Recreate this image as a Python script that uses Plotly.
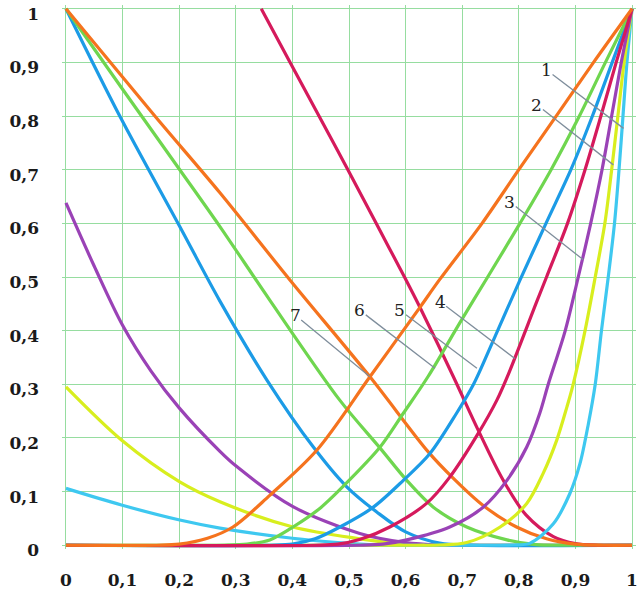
import plotly.graph_objects as go

# values
# falling curves (start at x = 0)
orange_dn_x = [0, 0.157, 0.272, 0.396, 0.537, 0.64, 0.684, 0.737, 0.796, 0.849, 0.9, 0.95, 1]
orange_dn_y = [1, 0.80, 0.657, 0.494, 0.314, 0.174, 0.125, 0.074, 0.034, 0.012, 0.002, 0, 0]
green_dn_x = [0, 0.1, 0.201, 0.272, 0.36, 0.484, 0.555, 0.602, 0.649, 0.708, 0.779, 0.83, 0.88, 1]
green_dn_y = [1, 0.85, 0.70, 0.594, 0.457, 0.27, 0.181, 0.121, 0.071, 0.034, 0.01, 0.001, 0, 0]
blue_dn_x = [0, 0.095, 0.201, 0.272, 0.355, 0.437, 0.496, 0.549, 0.6, 0.66, 0.72, 1]
blue_dn_y = [1, 0.80, 0.594, 0.455, 0.308, 0.183, 0.109, 0.062, 0.025, 0.004, 0, 0]
purple_dn_x = [0, 0.05, 0.1, 0.15, 0.2, 0.272, 0.30, 0.401, 0.519, 0.6, 0.66, 0.72, 1]
purple_dn_y = [0.638, 0.52, 0.41, 0.325, 0.256, 0.175, 0.148, 0.072, 0.022, 0.005, 0.0005, 0, 0]
yellow_dn_x = [0, 0.098, 0.201, 0.272, 0.401, 0.519, 0.58, 0.64, 0.7, 1]
yellow_dn_y = [0.295, 0.196, 0.118, 0.081, 0.034, 0.012, 0.004, 0.0005, 0, 0]
cyan_dn_x = [0, 0.098, 0.201, 0.272, 0.40, 0.48, 0.55, 0.6, 1]
cyan_dn_y = [0.106, 0.075, 0.047, 0.032, 0.013, 0.005, 0.0005, 0, 0]
crimson_dn_x = [0.345, 0.396, 0.447, 0.498, 0.548, 0.598, 0.627, 0.684, 0.728, 0.772, 0.813, 0.861, 0.9, 0.94, 1]
crimson_dn_y = [1, 0.90, 0.80, 0.70, 0.60, 0.50, 0.44, 0.315, 0.215, 0.122, 0.056, 0.016, 0.003, 0, 0]

# rising curves (all end at x = 1, y = 1)
orange_up_x = [0, 0.16, 0.2, 0.25, 0.295, 0.36, 0.443, 0.537, 0.625, 0.66, 0.735, 0.80, 0.866, 0.932, 1]
orange_up_y = [0, 0, 0.002, 0.013, 0.034, 0.093, 0.177, 0.314, 0.443, 0.495, 0.60, 0.70, 0.80, 0.90, 1]
green_up_x = [0, 0.28, 0.32, 0.36, 0.401, 0.45, 0.49, 0.555, 0.596, 0.64, 0.696, 0.745, 0.802, 0.857, 0.907, 0.953, 1]
green_up_y = [0, 0, 0.002, 0.01, 0.034, 0.07, 0.11, 0.183, 0.246, 0.315, 0.415, 0.50, 0.60, 0.70, 0.80, 0.90, 1]
blue_up_x = [0, 0.36, 0.40, 0.44, 0.484, 0.543, 0.596, 0.643, 0.69, 0.72, 0.755, 0.802, 0.848, 0.892, 0.930, 0.965, 1]
blue_up_y = [0, 0, 0.002, 0.012, 0.034, 0.071, 0.121, 0.171, 0.246, 0.30, 0.382, 0.494, 0.60, 0.70, 0.80, 0.90, 1]
crimson_up_x = [0, 0.44, 0.48, 0.52, 0.572, 0.637, 0.678, 0.728, 0.761, 0.782, 0.832, 0.849, 0.886, 0.917, 0.945, 0.972, 1]
crimson_up_y = [0, 0, 0.002, 0.011, 0.034, 0.078, 0.127, 0.208, 0.27, 0.32, 0.455, 0.50, 0.60, 0.70, 0.80, 0.90, 1]
purple_up_x = [0, 0.52, 0.56, 0.602, 0.678, 0.737, 0.779, 0.814, 0.837, 0.852, 0.882, 0.905, 0.927, 0.947, 0.964, 0.981, 1]
purple_up_y = [0, 0, 0.002, 0.01, 0.034, 0.071, 0.121, 0.183, 0.246, 0.30, 0.40, 0.50, 0.60, 0.70, 0.80, 0.90, 1]
yellow_up_x = [0, 0.62, 0.66, 0.708, 0.767, 0.814, 0.843, 0.867, 0.885, 0.896, 0.917, 0.935, 0.952, 0.964, 0.975, 0.986, 1]
yellow_up_y = [0, 0, 0.0005, 0.005, 0.034, 0.078, 0.134, 0.196, 0.258, 0.30, 0.40, 0.50, 0.60, 0.70, 0.80, 0.90, 1]
cyan_up_x = [0, 0.75, 0.79, 0.82, 0.861, 0.89, 0.908, 0.923, 0.935, 0.946, 0.958, 0.969, 0.977, 0.984, 0.991, 1]
cyan_up_y = [0, 0, 0.0005, 0.004, 0.04, 0.096, 0.152, 0.227, 0.30, 0.40, 0.50, 0.60, 0.70, 0.80, 0.90, 1]

tick_vals = [0, 0.1, 0.2, 0.3, 0.4, 0.5, 0.6, 0.7, 0.8, 0.9, 1]
tick_text = ["0", "0,1", "0,2", "0,3", "0,4", "0,5", "0,6", "0,7", "0,8", "0,9", "1"]
curve_labels = ["1", "2", "3", "4", "5", "6", "7"]

ORANGE = "#F5731E"
GREEN = "#6FD64F"
BLUE = "#1C9BE6"
PURPLE = "#9A42B6"
YELLOW = "#D8EE1E"
CYAN = "#3EC8F0"
CRIMSON = "#D51A5C"

curves = [
    (cyan_dn_x, cyan_dn_y, CYAN),
    (yellow_dn_x, yellow_dn_y, YELLOW),
    (purple_dn_x, purple_dn_y, PURPLE),
    (blue_dn_x, blue_dn_y, BLUE),
    (green_dn_x, green_dn_y, GREEN),
    (crimson_dn_x, crimson_dn_y, CRIMSON),
    (orange_dn_x, orange_dn_y, ORANGE),
    (cyan_up_x, cyan_up_y, CYAN),
    (yellow_up_x, yellow_up_y, YELLOW),
    (purple_up_x, purple_up_y, PURPLE),
    (blue_up_x, blue_up_y, BLUE),
    (green_up_x, green_up_y, GREEN),
    (crimson_up_x, crimson_up_y, CRIMSON),
    (orange_up_x, orange_up_y, ORANGE),
]

fig = go.Figure()
for xs, ys, col in curves:
    fig.add_trace(go.Scatter(
        x=xs, y=ys, mode="lines",
        line=dict(color=col, width=3.2, shape="spline", smoothing=0.9),
        showlegend=False, hoverinfo="skip",
    ))

# numbered leader lines: (text x, text y, tip x, tip y)
leaders = [
    (0.849, 0.886, 0.985, 0.777),
    (0.832, 0.821, 0.967, 0.709),
    (0.784, 0.640, 0.914, 0.532),
    (0.661, 0.454, 0.793, 0.348),
    (0.590, 0.438, 0.726, 0.330),
    (0.519, 0.438, 0.652, 0.330),
    (0.405, 0.429, 0.537, 0.314),
]
for lab, (tx, ty, hx, hy) in zip(curve_labels, leaders):
    fig.add_annotation(
        x=hx, y=hy, ax=tx, ay=ty, axref="x", ayref="y",
        text=lab, showarrow=True, arrowhead=0, arrowwidth=1.3,
        arrowcolor="#7F8E9C", standoff=0, borderpad=0,
        font=dict(family="DejaVu Serif", size=17, color="#222222"),
    )

axis_common = dict(
    tickvals=tick_vals, ticktext=tick_text,
    showgrid=True, gridcolor="#96DDA0", gridwidth=1.4,
    zeroline=False, showline=False, ticks="",
    automargin=False, ticklabeloverflow="allow",
    tickfont=dict(family="DejaVu Serif", size=17, color="#1a1a1a", weight="bold"),
)

fig.update_xaxes(range=[-0.007, 1.007], ticklabelstandoff=19, **axis_common)
fig.update_yaxes(range=[-0.007, 1.007], ticklabelstandoff=22, ticklabelshift=5, **axis_common)

fig.update_layout(
    width=644, height=598,
    margin=dict(l=62, r=8, t=5, b=49),
    plot_bgcolor="white", paper_bgcolor="white",
)

fig.write_html("out.html", config={"displayModeBar": False},
               post_script="document.body.style.margin='0';")
